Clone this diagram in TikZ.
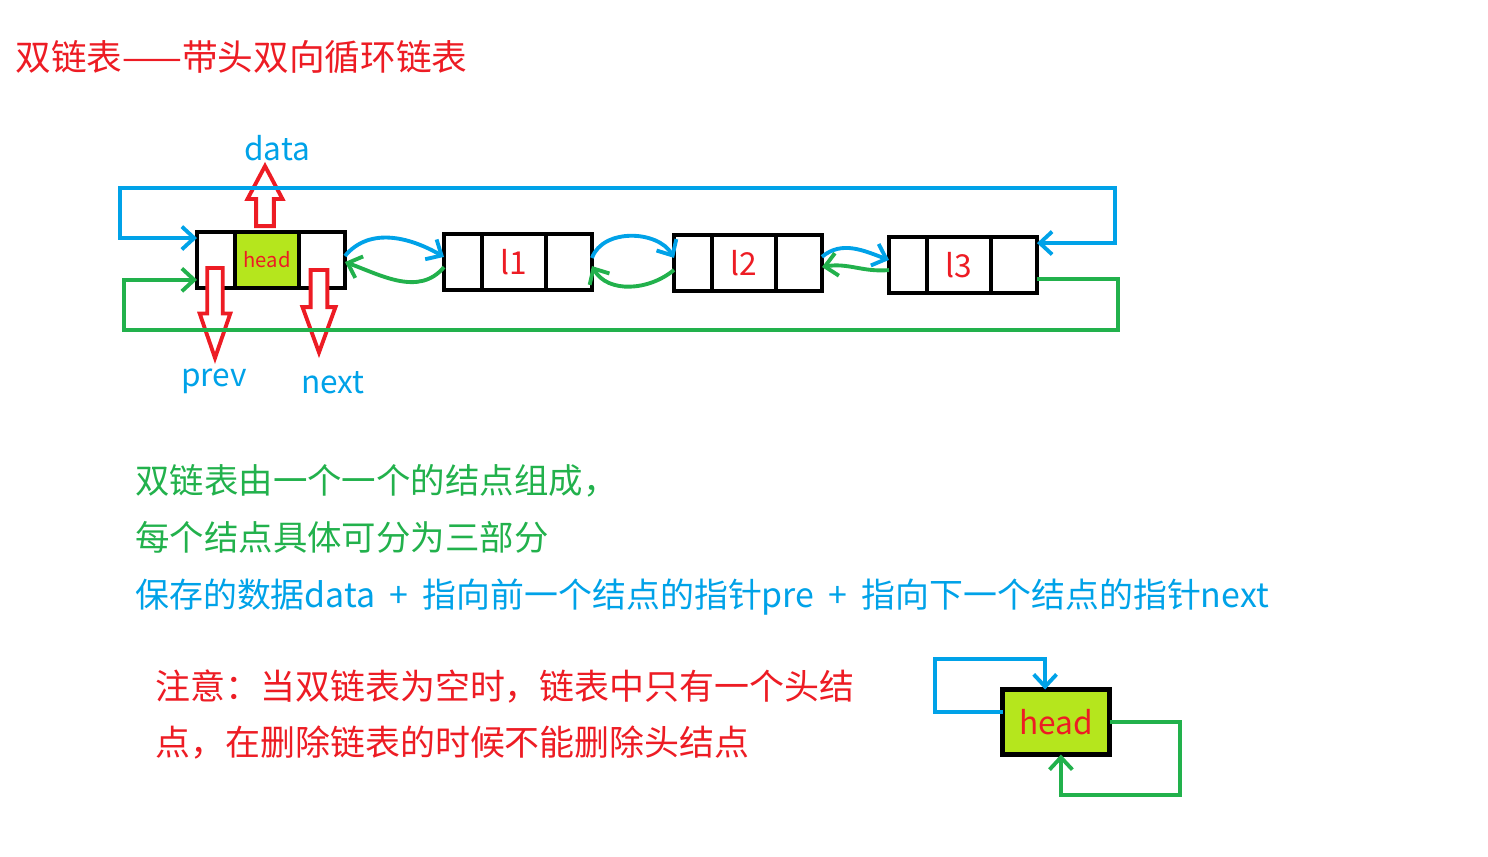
\documentclass[tikz,border=0pt]{standalone}
\usepackage{fontspec}
\setmainfont{Noto Sans CJK SC}
\usepackage{tikz}
\usetikzlibrary{arrows.meta, positioning, shapes.arrows}
\definecolor{lineblue}{RGB}{0,162,232}
\definecolor{linegreen}{RGB}{34,177,76}
\definecolor{markred}{RGB}{237,28,36}
\definecolor{headfill}{RGB}{181,230,29}

\begin{document}
\begin{tikzpicture}[
  x=0.02cm, y=0.02cm,
  cell/.style={rectangle, draw, line width=2.6pt, outer sep=0pt, minimum height=1.12cm, inner sep=0pt},
  pcell/.style={cell, minimum width=0.76cm},
  dcell/.style={cell, minimum width=1.28cm, font=\fontsize{18pt}{20pt}\selectfont, text=markred},
  ncell/.style={cell, minimum width=0.92cm},
  nextline/.style={draw=lineblue, line width=2.2pt, -{Straight Barb[length=7pt, width=13pt]}},
  prevline/.style={draw=linegreen, line width=2.2pt, -{Straight Barb[length=7pt, width=13pt]}},
  hollow/.style={single arrow, draw=markred, line width=2.2pt, fill=white, single arrow head indent=0pt, anchor=tail},
  ptr/.style={text=lineblue, font=\fontsize{18pt}{20pt}\selectfont},
  note/.style={anchor=west, inner sep=0pt, font=\fontsize{19.6pt}{22pt}\selectfont}
]
  \useasboundingbox (0,0) rectangle (1488,-856);

  \node[note, text=markred, font=\fontsize{20.3pt}{22pt}\selectfont] (title) at (15,-57) {双链表——带头双向循环链表};

  % head node
  \node[pcell, anchor=west] (h-p) at (197,-260) {};
  \node[dcell, fill=headfill, right=0pt of h-p, font=\fontsize{11.5pt}{12pt}\selectfont] (h-d) {head};
  \node[ncell, right=0pt of h-d] (h-n) {};
  % l1
  \node[pcell, anchor=west] (a-p) at (444,-262) {};
  \node[dcell, right=0pt of a-p] (a-d) {l1};
  \node[ncell, right=0pt of a-d] (a-n) {};
  % l2
  \node[pcell, anchor=west] (b-p) at (674,-263) {};
  \node[dcell, right=0pt of b-p] (b-d) {l2};
  \node[ncell, right=0pt of b-d] (b-n) {};
  % l3
  \node[pcell, anchor=west] (c-p) at (889,-265) {};
  \node[dcell, right=0pt of c-p] (c-d) {l3};
  \node[ncell, right=0pt of c-d] (c-n) {};

  % red hollow pointers
  \node[hollow, rotate=90, minimum height=1.2cm, minimum width=0.7cm, single arrow head extend=0.15cm, single arrow tip angle=56] (data-arr) at (265,-228) {};
  \node[hollow, rotate=-90, minimum height=1.8cm, minimum width=0.6cm, single arrow head extend=0.15cm, single arrow tip angle=38] (prev-arr) at (215,-266) {};
  \node[hollow, rotate=-90, minimum height=1.65cm, minimum width=0.66cm, single arrow head extend=0.15cm, single arrow tip angle=40] (next-arr) at (319,-268) {};
  \node[ptr] (data-lbl) at (277,-148) {data};
  \node[ptr] (prev-lbl) at (214,-381) {prev};
  \node[ptr] (next-lbl) at (333,-383) {next};

  % links between nodes
  \draw[nextline] (h-n.10) to[out=50, in=150] (a-p.165);
  \draw[prevline] (a-p.195) to[out=-130, in=-20] (h-n.-5);
  \draw[nextline] (a-n.10) to[out=70, in=120] (b-p.165);
  \draw[prevline] (b-p.200) to[out=-140, in=-60] (a-n.-10);
  \draw[nextline] (b-n.15) to[out=40, in=160] (c-p.165);
  \draw[prevline] (c-p.195) to[out=185, in=10] (b-n.-10);

  % circular links
  \coordinate (top-r) at (1115,-188);
  \coordinate (top-l) at (120,-188);
  \coordinate (bot-r) at (1118,-330);
  \coordinate (bot-l) at (124,-330);
  \coordinate (h-in) at ([yshift=12.5pt]h-p.west);
  \coordinate (c-in) at ([yshift=12.5pt]c-n.east);
  \coordinate (c-out) at ([yshift=-8pt]c-n.east);
  \coordinate (h-in2) at ([yshift=-11.3pt]h-p.west);
  \draw[nextline, {Straight Barb[length=7pt, width=13pt]}-{Straight Barb[length=7pt, width=13pt]}]
    (h-in) -- (top-l |- h-in) -- (top-l) -- (top-r) -- (top-r |- c-in) -- (c-in);
  \draw[prevline] (c-out) -- (bot-r |- c-out) -- (bot-r) -- (bot-l) -- (bot-l |- h-in2) -- (h-in2);

  % notes
  \node[note, text=linegreen] (line1) at (135,-481) {双链表由一个一个的结点组成，};
  \node[note, text=linegreen] (line2) at (135,-537) {每个结点具体可分为三部分};
  \node[note, text=lineblue, font=\fontsize{19.3pt}{22pt}\selectfont] (line3) at (135,-597) {保存的数据data\hspace{0.42em}+\hspace{0.42em}指向前一个结点的指针pre\hspace{0.42em}+\hspace{0.42em}指向下一个结点的指针next};
  \node[note, text=markred, font=\fontsize{19.9pt}{22pt}\selectfont] (warn1) at (155,-687) {注意：当双链表为空时，链表中只有一个头结};
  \node[note, text=markred, font=\fontsize{19.9pt}{22pt}\selectfont] (warn2) at (155,-743) {点，在删除链表的时候不能删除头结点};

  % empty list
  \node[cell, line width=3pt, fill=headfill, minimum width=2.14cm, minimum height=1.3cm, text=markred, font=\fontsize{18pt}{20pt}\selectfont] (empty) at (1056,-722) {head};
  \coordinate (e-tl) at (935,-659);
  \coordinate (e-br) at (1180,-795);
  \coordinate (e-out) at ([yshift=5.7pt]empty.west);
  \coordinate (e-in) at ([xshift=-6.2pt]empty.north);
  \coordinate (e-in2) at ([xshift=2.8pt]empty.south);
  \draw[nextline] (e-out) -- (e-tl |- e-out) -- (e-tl) -- (e-in |- e-tl) -- (e-in);
  \draw[prevline] (empty.east) -- (e-br |- empty.east) -- (e-br) -- (e-in2 |- e-br) -- (e-in2);
\end{tikzpicture}
\end{document}
